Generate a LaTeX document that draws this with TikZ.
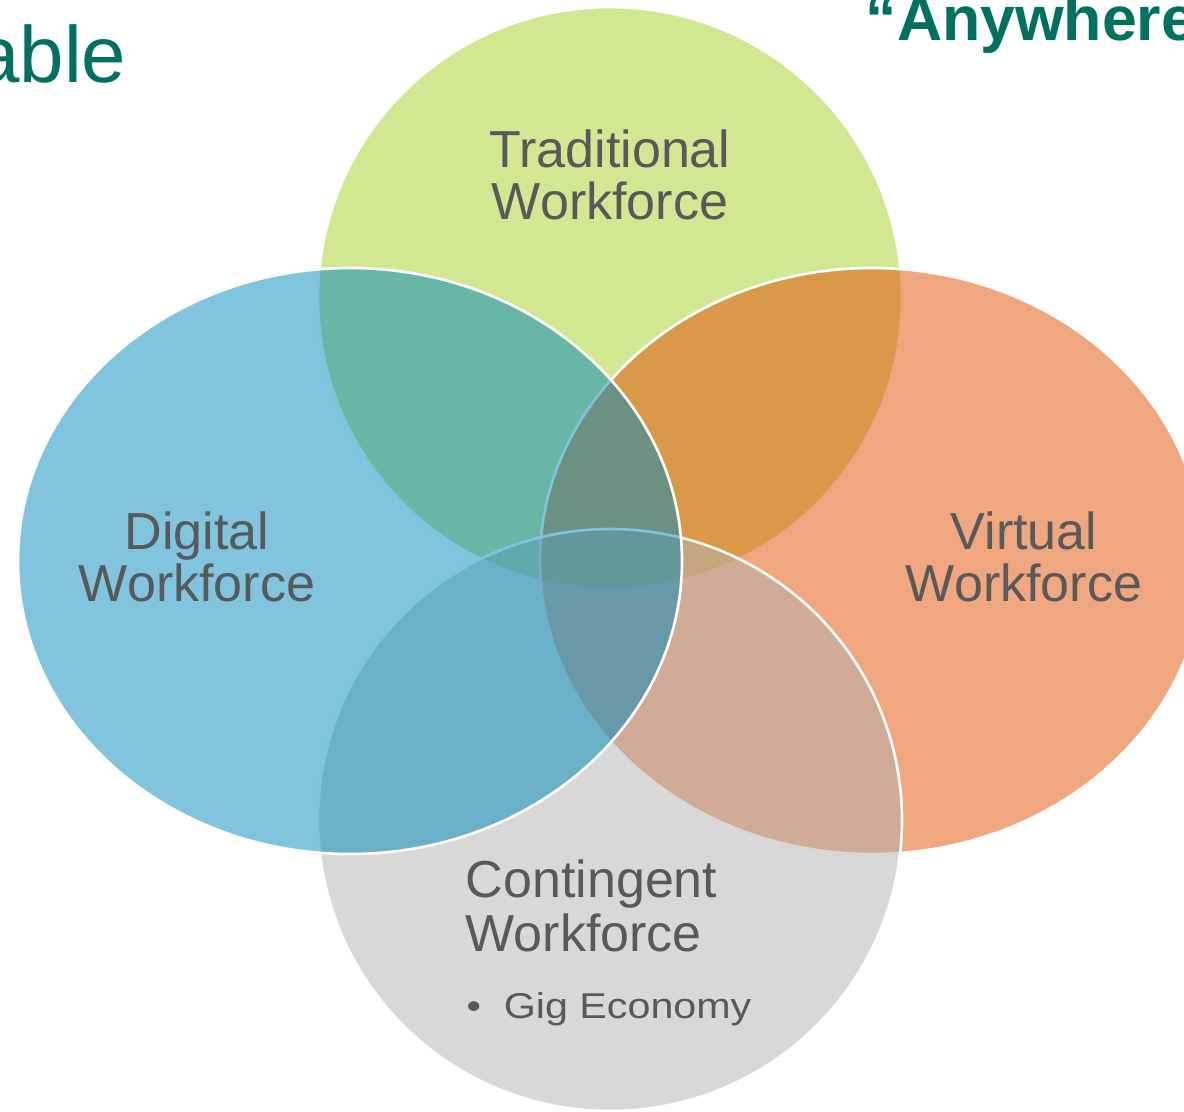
\documentclass[tikz,border=0pt]{standalone}
\usepackage{fontspec}
\setmainfont{Liberation Sans}
\usepackage{graphicx}

\definecolor{setgreen}{RGB}{165,207,37}
\definecolor{setblue}{RGB}{1,137,187}
\definecolor{setorange}{RGB}{225,77,0}
\definecolor{setgray}{RGB}{177,177,177}
\definecolor{wordgray}{RGB}{88,89,91}
\definecolor{headteal}{RGB}{0,112,96}

\begin{document}
\begin{tikzpicture}[x=0.01cm, y=-0.01cm,
  set/.style={fill opacity=0.5, draw=white, line width=0.75pt},
  word/.style={text=wordgray, inner sep=0pt, align=center, font=\fontsize{14.8}{14.8}\selectfont}]
  \useasboundingbox (0,0) rectangle (1184,1111);
  \clip (0,0) rectangle (1184,1111);
  % the four sets, back to front
  \draw[set, fill=setgreen] (610,298) ellipse [x radius=292, y radius=291];
  \draw[set, fill=setorange] (872,561) ellipse [x radius=332, y radius=293];
  \draw[set, fill=setgray] (610,820) ellipse [x radius=292, y radius=291];
  \draw[set, fill=setblue] (350,561) ellipse [x radius=332, y radius=293];
  % labels
  \node(trad)[word] at (610,175) {Traditional\\Workforce};
  \node(digital)[word] at (197,557) {Digital\\Workforce};
  \node(virtual)[word] at (1024,557) {Virtual\\Workforce};
  \node(contingent)[word, align=left, anchor=west, font=\fontsize{14.8}{15.4}\selectfont] at (465,906) {Contingent\\Workforce};
  \node(gig)[word, anchor=base west, font=\fontsize{10.2}{12}\selectfont] at (466,1018) {\scalebox{1.15}[1]{•\hspace{0.55em}Gig Economy}};
  % cut-off slide title
  \node(title)[inner sep=0pt, anchor=base east, text=headteal, font=\fontsize{22.7}{26}\selectfont] at (127,82) {able};
  \node(quote)[inner sep=0pt, anchor=base west, text=headteal, font=\bfseries\fontsize{17.8}{20}\selectfont] at (865,40) {“Anywhere};
\end{tikzpicture}
\end{document}
